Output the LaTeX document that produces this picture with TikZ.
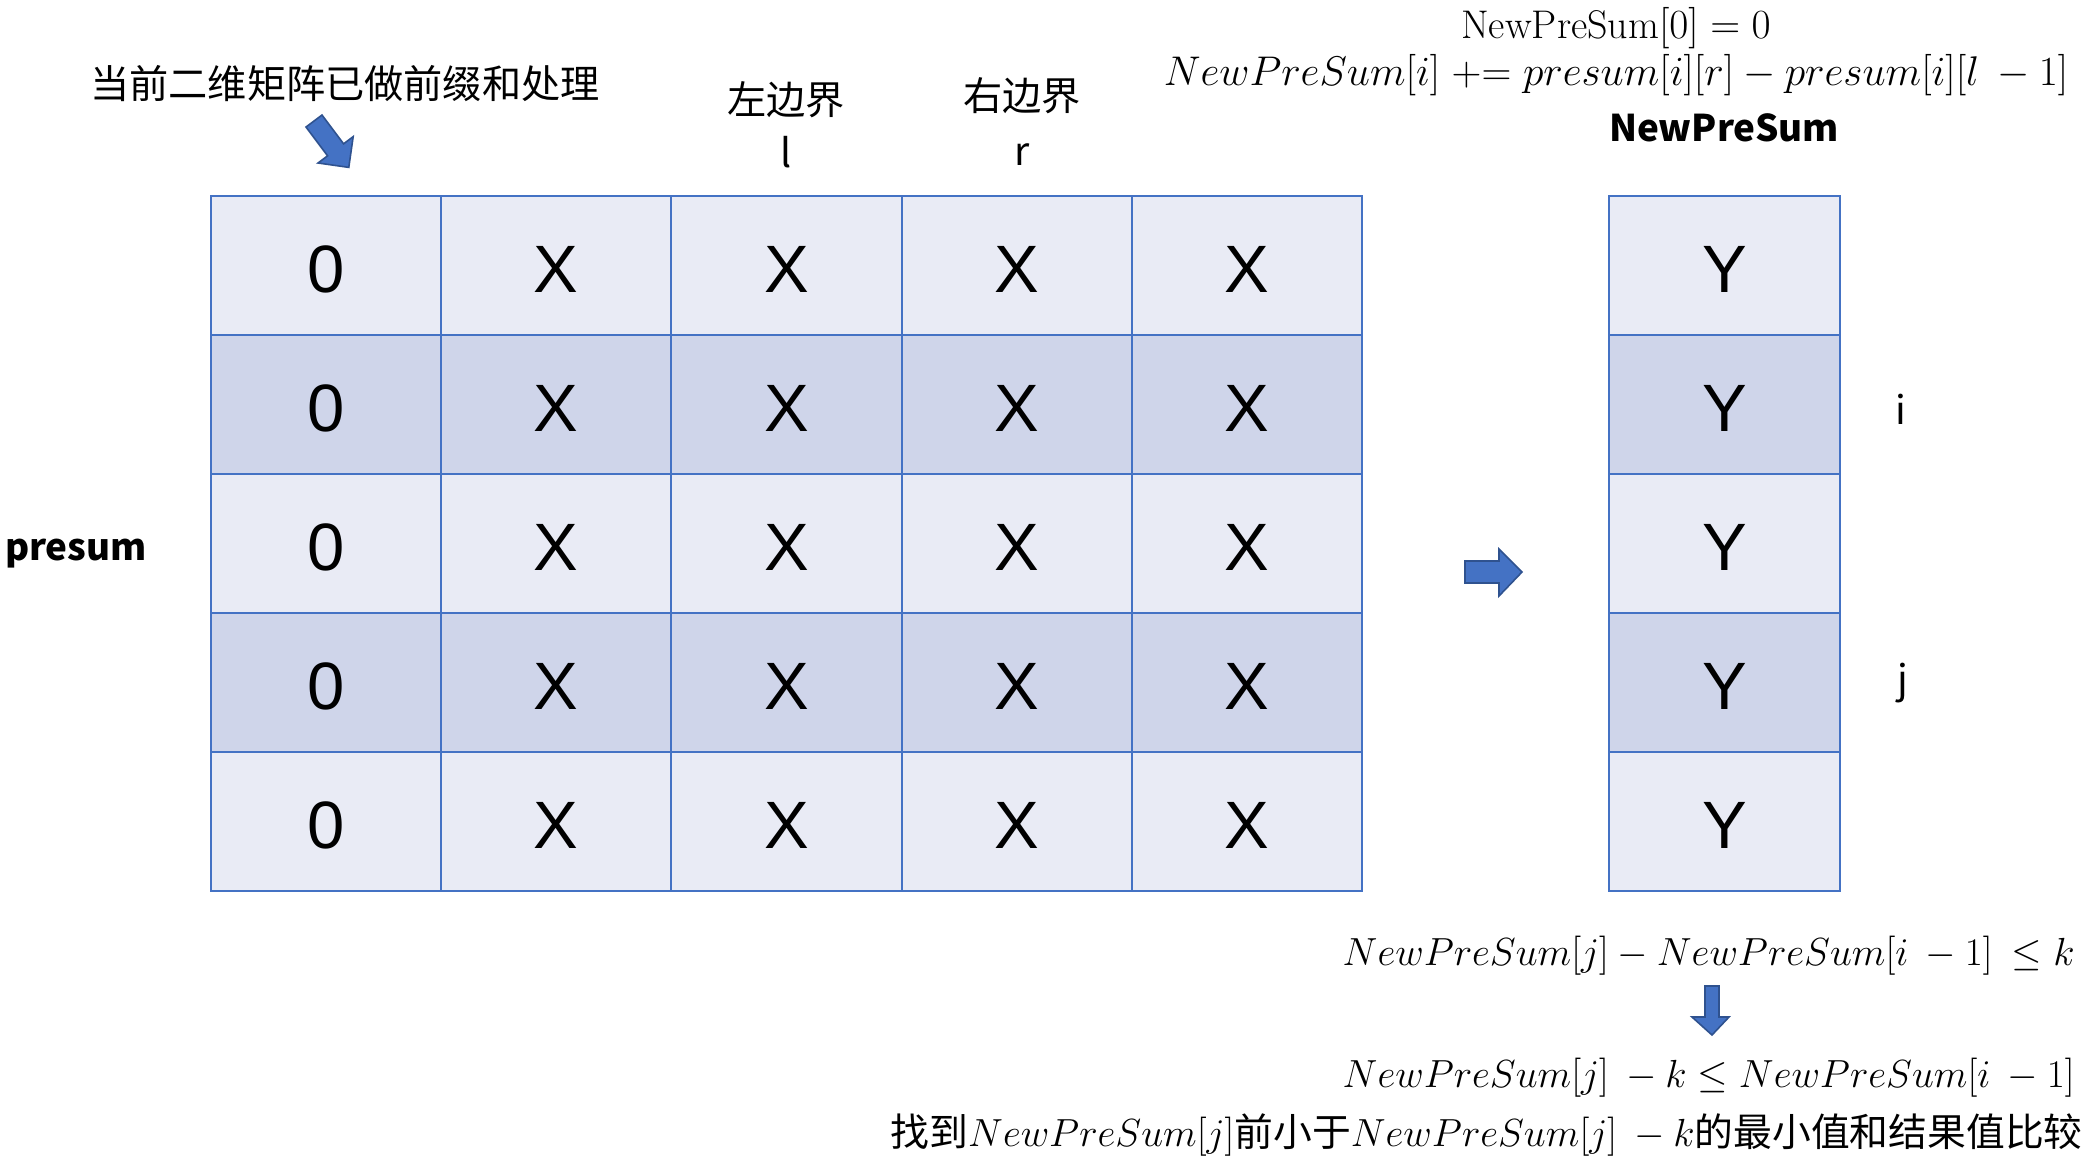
\documentclass[tikz,border=0pt]{standalone}
\usepackage{fontspec}
\newfontfamily\cjk{Noto Sans CJK SC}
\newfontfamily\arialf{Liberation Sans}
\definecolor{lightc}{HTML}{E9EBF5}
\definecolor{darkc}{HTML}{CFD5EA}
\definecolor{bord}{HTML}{4472C4}
\definecolor{arrf}{HTML}{4472C4}
\definecolor{arrd}{HTML}{2F528F}
\newcommand{\sm}[1]{\scalebox{0.945}{$#1$}}
\tikzset{
  cell/.style={draw=bord, line width=1pt, minimum width=115.1pt, minimum height=69.5pt, inner sep=0pt,
    text height=27pt, text depth=0pt,
    font=\arialf\fontsize{33.5pt}{40pt}\selectfont},
  lab/.style={inner sep=0pt, font=\cjk\fontsize{19.6pt}{23pt}\selectfont},
  labb/.style={inner sep=0pt, font=\cjk\bfseries\fontsize{18.4pt}{22pt}\selectfont},
  mth/.style={inner sep=0pt, font=\cjk\fontsize{20pt}{24pt}\selectfont},
  blockarrow/.style={fill=arrf, draw=arrd, line width=0.8pt, line join=miter}
}
\begin{document}
\begin{tikzpicture}[x=0.5pt,y=-0.5pt]
\useasboundingbox (0,0) rectangle (2090,1163);
% matrix
\foreach \r [evaluate=\r as \yy using 196+139*(\r-0.5)] in {1,...,5}{
  \ifodd\r \def\fc{lightc}\else\def\fc{darkc}\fi
  \foreach \c [evaluate=\c as \xx using 211+230.2*(\c-0.5)] in {1,...,5}{
    \ifnum\c=1 \def\tx{0}\else\def\tx{X}\fi
    \node[cell, fill=\fc] (m-\r-\c) at (\xx,\yy) {\tx};
  }
  \node[cell, fill=\fc] (n-\r) at (1724.5,\yy) {Y};
}
% labels
\node[lab] (hdr) at (345,84) {当前二维矩阵已做前缀和处理};
\node[lab] (lb) at (786,100) {左边界};
\node[lab] (lv) at (786,152) {l};
\node[lab] (rb) at (1022,96) {右边界};
\node[lab] (rv) at (1022,155) {r};
\node[labb] (ps) at (76,554) {presum};
\node[labb] (nps) at (1724,128) {NewPreSum};
\node[lab] (li) at (1901,409) {i};
\node[lab] (lj) at (1903,683) {j};
% formulas
\node[mth] (f1) at (1616,28) {$\mathrm{NewPreSum}[0]=0$};
\node[mth] (f2) at (1616,75) {$NewPreSum[i]\mathrel{+}=presum[i][r]-presum[i][l\ -1]$};
\node[mth, anchor=east] (b1) at (2075,956) {\sm{NewPreSum[j]-NewPreSum[i\ -1]\ \le k}};
\node[mth, anchor=east] (b2) at (2075,1078) {\sm{NewPreSum[j]\ -k\le NewPreSum[i\ -1]}};
\node[mth, anchor=east, font=\cjk\fontsize{19.4pt}{24pt}\selectfont] (b3) at (2083,1135) {找到\sm{NewPreSum[j]}前小于\sm{NewPreSum[j]\ -k}的最小值和结果值比较};
% block arrows
\draw[blockarrow] (322,115) -- (343.6,143.8) -- (353.2,136.6) -- (348.8,167.4) -- (318,163) -- (327.6,155.8) -- (306,127) -- cycle;
\draw[blockarrow] (1465,561) -- (1499,561) -- (1499,549) -- (1522,572) -- (1499,596) -- (1499,583) -- (1465,583) -- cycle;
\draw[blockarrow] (1705,986) -- (1719,986) -- (1719,1017) -- (1729,1017) -- (1712,1035) -- (1692,1017) -- (1705,1017) -- cycle;
\end{tikzpicture}
\end{document}
